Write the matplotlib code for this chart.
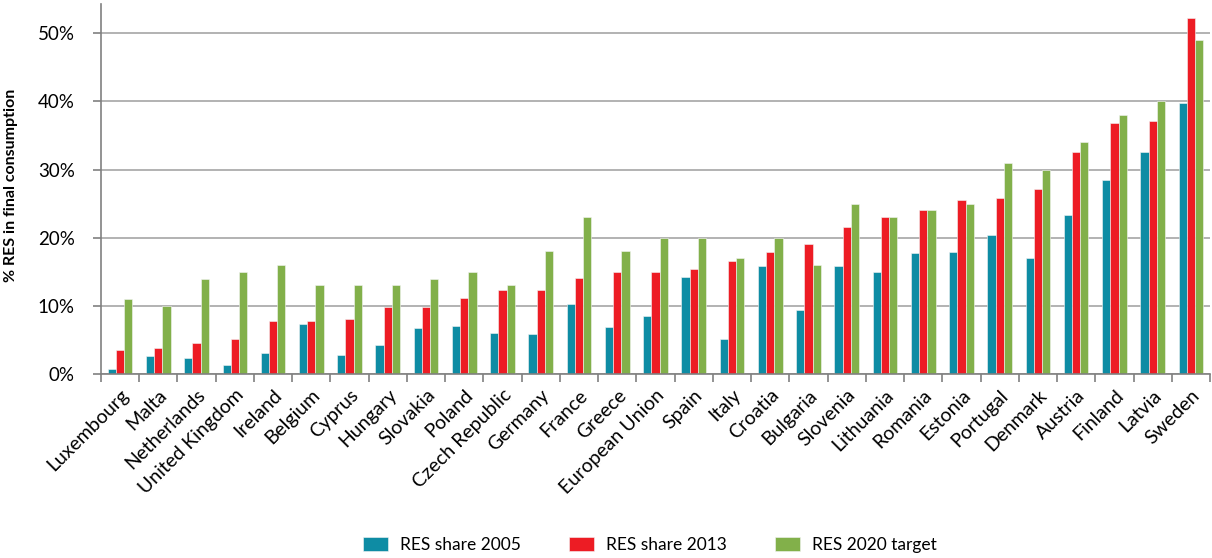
import numpy as np
import matplotlib
matplotlib.use("Agg")
import matplotlib.pyplot as plt
from matplotlib.ticker import FuncFormatter, FixedLocator, NullFormatter

plt.rcParams['font.family'] = ['Lato', 'DejaVu Sans']

countries = ["Luxembourg", "Malta", "Netherlands", "United Kingdom", "Ireland",
             "Belgium", "Cyprus", "Hungary", "Slovakia", "Poland",
             "Czech Republic", "Germany", "France", "Greece", "European Union",
             "Spain", "Italy", "Croatia", "Bulgaria", "Slovenia",
             "Lithuania", "Romania", "Estonia", "Portugal", "Denmark",
             "Austria", "Finland", "Latvia", "Sweden"]

share_2005 = [0.8, 2.6, 2.4, 1.3, 3.1, 7.4, 2.8, 4.2, 6.7, 7.1,
              6.0, 5.8, 10.3, 6.9, 8.5, 14.3, 5.1, 15.9, 9.4, 15.9,
              15.0, 17.7, 17.9, 20.4, 17.0, 23.4, 28.5, 32.6, 39.8]
share_2013 = [3.5, 3.8, 4.5, 5.1, 7.8, 7.8, 8.0, 9.9, 9.9, 11.2,
              12.3, 12.3, 14.1, 15.0, 15.0, 15.4, 16.6, 17.9, 19.1, 21.5,
              23.1, 24.0, 25.6, 25.9, 27.2, 32.6, 36.9, 37.1, 52.2]
target_2020 = [11, 10, 14, 15, 16, 13, 13, 13, 14, 15,
               13, 18, 23, 18, 20, 20, 17, 20, 16, 25,
               23, 24, 25, 31, 30, 34, 38, 40, 49]

series = [("RES share 2005", share_2005, "#0e8ca4"),
          ("RES share 2013", share_2013, "#ed1c24"),
          ("RES 2020 target", target_2020, "#82b04a")]

fig = plt.figure(figsize=(12.12, 5.58), dpi=100)
ax = fig.add_axes([101 / 1212, 184 / 558, 1109 / 1212, 370 / 558])

x = np.arange(len(countries))
w = 0.215
for i, (name, vals, col) in enumerate(series):
    ax.bar(x + (i - 1) * w, vals, width=w, color=col, label=name,
           edgecolor="#f4f4f4", linewidth=0.4, zorder=3)

ax.set_xlim(-0.5, len(countries) - 0.5)
ax.set_ylim(0, 54.3)
ax.set_yticks(np.arange(0, 51, 10))
ax.yaxis.set_major_formatter(FuncFormatter(lambda v, p: f"{v:.0f}%"))
ax.grid(axis="y", color="#a6a6a6", linewidth=1.2, zorder=0)

# labels at category centres, tick marks at category boundaries
ax.set_xticks(x)
ax.set_xticklabels(countries, rotation=45, ha="right", va="top",
                   rotation_mode="anchor", fontsize=14)
ax.tick_params(axis="x", which="major", length=0, pad=9)
ax.xaxis.set_minor_locator(FixedLocator(np.arange(-0.5, len(countries), 1)))
ax.xaxis.set_minor_formatter(NullFormatter())
ax.tick_params(axis="x", which="minor", length=6, color="#808080", width=1.2)
ax.tick_params(axis="y", length=6, color="#808080", width=1.2,
               labelsize=13.5, pad=13)

for s in ["top", "right"]:
    ax.spines[s].set_visible(False)
for s in ["left", "bottom"]:
    ax.spines[s].set_color("#808080")
    ax.spines[s].set_linewidth(1.2)
ax.spines["bottom"].set_zorder(4)

fig.text(11 / 1212, 1 - 185 / 558, "% RES in final consumption", rotation=90,
         ha="center", va="center", fontsize=11.5, fontweight="bold")

fig.legend(loc="center", bbox_to_anchor=(650 / 1212, 13 / 558), ncol=3,
           frameon=False, fontsize=12.5, handlelength=1.45, handleheight=0.9,
           columnspacing=2.75, handletextpad=0.7, borderpad=0)

fig.savefig("out.png", dpi=100)
